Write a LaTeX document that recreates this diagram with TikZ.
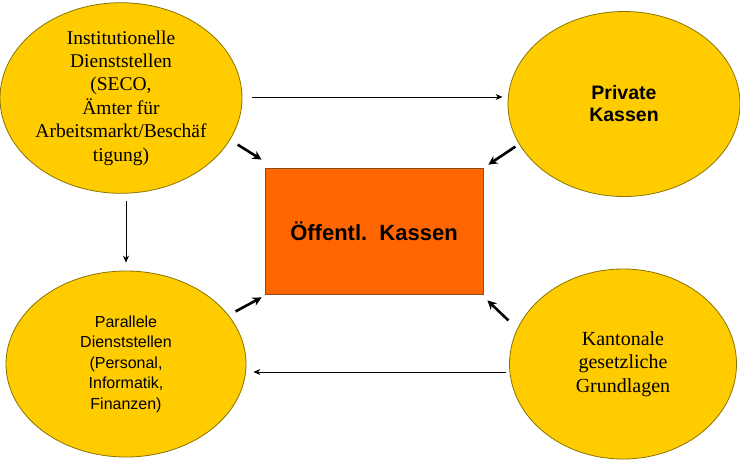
\documentclass[tikz,border=0pt]{standalone}
\usepackage{fontspec}
\setmainfont{Liberation Serif}
\setsansfont{Liberation Sans}
\usetikzlibrary{shapes.geometric,arrows.meta,calc}
\definecolor{gelb}{HTML}{FFCC00}
\definecolor{gelbrand}{HTML}{8A7400}
\definecolor{orange}{HTML}{FF6600}
\definecolor{orangerand}{HTML}{8A4A20}
\begin{document}
\begin{tikzpicture}[x=1pt, y=-1pt,
  blase/.style={ellipse, draw=gelbrand, fill=gelb, line width=0.8pt, inner sep=0pt, align=center},
  pfeil/.style={-{Stealth[length=7pt,width=6pt]}, line width=0.9pt},
  dick/.style={-{Stealth[length=9pt,width=9pt]}, line width=2.6pt}]
  \useasboundingbox[fill=white] (0,0) rectangle (740,459);
  % Ellipsen
  \node[blase, minimum width=232pt, minimum height=190pt,
    font=\fontsize{19.5}{23.4}\selectfont] (inst) at (121,98)
    {Institutionelle\\Dienststellen\\(SECO,\\Ämter für\\Arbeitsmarkt/Beschäf\\tigung)};
  \node[blase, minimum width=232pt, minimum height=185pt,
    font=\sffamily\bfseries\fontsize{19.5}{22}\selectfont] (priv) at (624,104)
    {Private\\Kassen};
  \node[blase, minimum width=240pt, minimum height=186pt,
    font=\sffamily\fontsize{16}{20.5}\selectfont] (par) at (126,364)
    {Parallele\\Dienststellen\\(Personal,\\Informatik,\\Finanzen)};
  \node[blase, minimum width=227pt, minimum height=190pt,
    font=\fontsize{20}{23.5}\selectfont] (kant) at (623,364)
    {Kantonale\\gesetzliche\\Grundlagen};
  % Kasten
  \node[draw=orangerand, fill=orange, line width=0.8pt, minimum width=218pt, minimum height=126pt,
    font=\sffamily\bfseries\fontsize{22}{26}\selectfont] (kasse) at (374,231) {Öffentl.\ \ Kassen};
  % Pfeile
  \draw[pfeil, shorten <=10pt, shorten >=5pt] ([yshift=1pt]inst.east) -- ([yshift=1pt]inst.east -| priv.west);
  \draw[pfeil, shorten <=7pt, shorten >=8pt] ([xshift=5pt]inst.south) -- ([xshift=5pt]inst.south |- par.north);
  \draw[pfeil, shorten <=3pt, shorten >=7pt] ([yshift=-8pt]kant.west) -- ([yshift=-8pt]kant.west -| par.east);
  \draw[dick] ($(kasse.north west)+(-27,-23)$) -- ($(kasse.north west)+(-3,-8)$);
  \draw[dick] ($(kasse.north east)+(32,-21)$) -- ($(kasse.north east)+(5,-3)$);
  \draw[dick] ($(kasse.south west)+(-29,17)$) -- ($(kasse.south west)+(-3,3)$);
  \draw[dick] ($(kasse.south east)+(25,26)$) -- ($(kasse.south east)+(4,6)$);
\end{tikzpicture}
\end{document}
